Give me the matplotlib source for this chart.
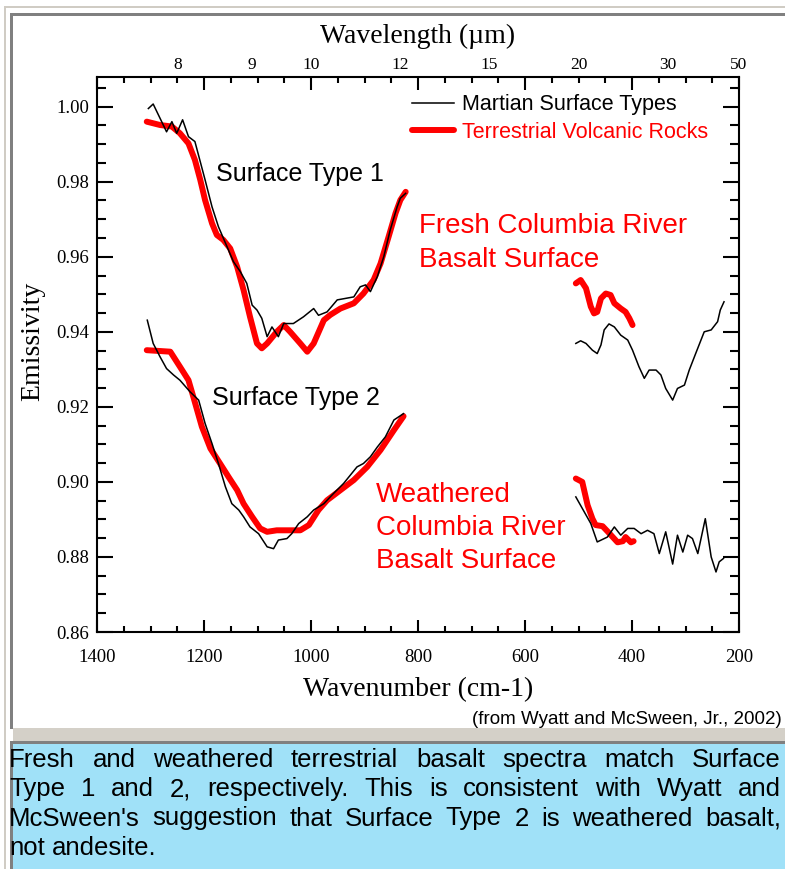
import matplotlib
matplotlib.use("Agg")
import matplotlib.pyplot as plt
from matplotlib.patches import Rectangle
from matplotlib.ticker import MultipleLocator, FormatStrFormatter, NullLocator

# Surface Type 1, Martian spectrum (wavenumber cm-1, emissivity)
t1_mars_wn = [1304, 1295, 1270, 1260, 1251, 1240, 1229, 1217, 1198, 1185, 1173, 1157,
              1145, 1132, 1120, 1110, 1101, 1092, 1082, 1073, 1061, 1051, 1033, 1014,
              995, 986, 970, 951, 920, 908, 898, 889, 876, 864, 852, 839, 833, 823]
t1_mars_em = [0.9995, 1.0007, 0.9933, 0.9960, 0.9929, 0.9965, 0.9920, 0.9907, 0.9805,
              0.9733, 0.9680, 0.9627, 0.9587, 0.9560, 0.9529, 0.9471, 0.9458, 0.9436,
              0.9387, 0.9413, 0.9387, 0.9422, 0.9422, 0.9440, 0.9462, 0.9444, 0.9453,
              0.9485, 0.9493, 0.9520, 0.9525, 0.9507, 0.9547, 0.9600, 0.9671, 0.9733,
              0.9756, 0.9769]
t1_mars_far_wn = [505, 496, 486, 474, 465, 458, 452, 443, 433, 421, 408, 399, 387, 377,
                  368, 355, 346, 337, 324, 315, 302, 293, 281, 265, 252, 240, 235, 228]
t1_mars_far_em = [0.9369, 0.9376, 0.9369, 0.9351, 0.9342, 0.9365, 0.9405, 0.9421, 0.9413,
                  0.9391, 0.9378, 0.9351, 0.9307, 0.9276, 0.9298, 0.9298, 0.9285, 0.9249,
                  0.9218, 0.9249, 0.9258, 0.9298, 0.9342, 0.9400, 0.9405, 0.9427, 0.9458,
                  0.9480]

# Fresh Columbia River basalt
t1_rock_wn = [1307, 1282, 1260, 1245, 1229, 1217, 1207, 1198, 1185, 1176, 1164, 1151,
              1138, 1126, 1114, 1101, 1092, 1082, 1064, 1051, 1039, 1020, 1007, 995,
              976, 964, 945, 920, 902, 883, 870, 855, 842, 833, 823]
t1_rock_em = [0.9960, 0.9951, 0.9947, 0.9929, 0.9902, 0.9858, 0.9805, 0.9751, 0.9689,
              0.9658, 0.9645, 0.9622, 0.9573, 0.9511, 0.9440, 0.9369, 0.9356, 0.9369,
              0.9400, 0.9418, 0.9400, 0.9369, 0.9347, 0.9369, 0.9431, 0.9445, 0.9462,
              0.9476, 0.9502, 0.9538, 0.9582, 0.9653, 0.9716, 0.9751, 0.9773]
t1_rock_far_wn = [505, 496, 486, 477, 471, 465, 458, 449, 440, 433, 421, 412, 405, 399]
t1_rock_far_em = [0.9529, 0.9538, 0.9516, 0.9467, 0.9449, 0.9453, 0.9489, 0.9502, 0.9498,
                  0.9476, 0.9462, 0.9453, 0.9436, 0.9418]

# Surface Type 2, Martian spectrum
t2_mars_wn = [1306, 1295, 1282, 1270, 1257, 1245, 1226, 1210, 1198, 1185, 1173, 1160,
              1148, 1135, 1126, 1114, 1098, 1082, 1070, 1061, 1045, 1036, 1023, 1007,
              995, 976, 958, 939, 914, 902, 889, 876, 861, 845, 827]
t2_mars_em = [0.9431, 0.9369, 0.9333, 0.9302, 0.9285, 0.9271, 0.9240, 0.9218, 0.9156,
              0.9102, 0.9049, 0.8987, 0.8942, 0.8925, 0.8907, 0.8880, 0.8862, 0.8827,
              0.8822, 0.8845, 0.8849, 0.8862, 0.8889, 0.8907, 0.8925, 0.8942, 0.8969,
              0.8996, 0.9040, 0.9049, 0.9067, 0.9093, 0.9120, 0.9165, 0.9182]
t2_mars_far_wn = [505, 477, 465, 446, 433, 421, 408, 396, 383, 371, 359, 349, 337, 324,
                  315, 305, 296, 287, 277, 263, 252, 243, 237, 229]
t2_mars_far_em = [0.8960, 0.8889, 0.8840, 0.8853, 0.8880, 0.8858, 0.8876, 0.8876, 0.8862,
                  0.8871, 0.8862, 0.8809, 0.8867, 0.8781, 0.8858, 0.8813, 0.8858, 0.8849,
                  0.8809, 0.8902, 0.8800, 0.8760, 0.8787, 0.8796]

# Weathered Columbia River basalt
t2_rock_wn = [1307, 1263, 1245, 1229, 1220, 1204, 1188, 1170, 1154, 1138, 1126, 1110,
              1095, 1082, 1064, 1039, 1020, 1004, 986, 970, 945, 920, 895, 870, 845, 827]
t2_rock_em = [0.9351, 0.9347, 0.9307, 0.9271, 0.9227, 0.9147, 0.9089, 0.9049, 0.9013,
              0.8978, 0.8942, 0.8907, 0.8876, 0.8867, 0.8871, 0.8871, 0.8871, 0.8885,
              0.8925, 0.8951, 0.8978, 0.9005, 0.9040, 0.9085, 0.9138, 0.9175]
t2_rock_far_wn = [505, 493, 483, 474, 468, 455, 445, 436, 427, 417, 412, 402, 397]
t2_rock_far_em = [0.9009, 0.9000, 0.8938, 0.8902, 0.8885, 0.8882, 0.8867, 0.8853, 0.8839,
                  0.8842, 0.8853, 0.8839, 0.8842]

wavelength_ticks = [8, 9, 10, 12, 15, 20, 30, 50]

caption_lines = [
    "Fresh and weathered terrestrial basalt spectra match Surface",
    "Type 1 and 2, respectively. This is consistent with Wyatt and",
    "McSween's suggestion that Surface Type 2 is weathered basalt,",
    "not andesite.",
]

plt.rcParams["font.family"] = "Liberation Serif"
SANS = "Liberation Sans"

W, H = 785, 869
fig = plt.figure(figsize=(W / 100, H / 100), dpi=100)


def fx(px):
    return px / W


def fy(py):
    return 1 - py / H


def box(x0, y0, x1, y1, color):
    fig.patches.append(Rectangle((fx(x0), fy(y1)), fx(x1) - fx(x0), fy(y0) - fy(y1),
                                 transform=fig.transFigure, facecolor=color,
                                 edgecolor="none", zorder=0))


# table frame around the chart and the caption cell
box(4, 6, 785, 8, "#d0ccc4")
box(4, 6, 6, 869, "#d0ccc4")
box(10, 13, 785, 16, "#808080")
box(10, 13, 13, 729, "#808080")
box(13, 728, 785, 741, "#d4d0c8")
box(10, 741, 785, 744, "#808080")
box(10, 741, 13, 869, "#808080")
box(13, 744, 785, 869, "#a0e1f8")

ax = fig.add_axes([fx(97), fy(632), fx(739) - fx(97), fy(77) - fy(632)])

black = dict(color="black", lw=1.1)
red = dict(color="#ff0000", lw=4.3, solid_capstyle="round", solid_joinstyle="round")

ax.plot(t1_mars_wn, t1_mars_em, label="Martian Surface Types", zorder=3, **black)
ax.plot(t1_mars_far_wn, t1_mars_far_em, zorder=3, **black)
ax.plot(t2_mars_wn, t2_mars_em, zorder=3, **black)
ax.plot(t2_mars_far_wn, t2_mars_far_em, zorder=3, **black)
ax.plot(t1_rock_wn, t1_rock_em, label="Terrestrial Volcanic Rocks", zorder=2, **red)
ax.plot(t1_rock_far_wn, t1_rock_far_em, zorder=2, **red)
ax.plot(t2_rock_wn, t2_rock_em, zorder=2, **red)
ax.plot(t2_rock_far_wn, t2_rock_far_em, zorder=2, **red)

ax.set_xlim(1400, 200)
ax.set_ylim(0.86, 1.0079)

# wavelength labels along the top edge
top = ax.twiny()
top.set_xlim(ax.get_xlim())
top.set_xticks([10000 / w for w in wavelength_ticks])
top.set_xticklabels([str(w) for w in wavelength_ticks])
top.xaxis.set_minor_locator(NullLocator())
top.tick_params(axis="x", length=0, pad=3, labelsize=12.5)
for s in top.spines.values():
    s.set_visible(False)

ax.xaxis.set_major_locator(MultipleLocator(200))
ax.xaxis.set_minor_locator(MultipleLocator(50))
ax.yaxis.set_major_locator(MultipleLocator(0.02))
ax.yaxis.set_minor_locator(MultipleLocator(0.005))
ax.yaxis.set_major_formatter(FormatStrFormatter("%.2f"))
ax.tick_params(which="both", direction="in", top=True, right=True, labeltop=False,
               width=1.5)
ax.tick_params(axis="x", which="major", length=9, pad=12, labelsize=13.5)
ax.tick_params(axis="x", which="minor", length=4.5)
ax.tick_params(axis="y", which="major", length=11.5, pad=5.5, labelsize=13.5)
ax.tick_params(axis="y", which="minor", length=6.5)
for s in ax.spines.values():
    s.set_linewidth(1.5)

leg = ax.legend(loc="upper left", bbox_to_anchor=(0.49, 0.969), frameon=False,
                borderpad=0, borderaxespad=0, handlelength=1.98, handletextpad=0.35,
                labelspacing=0.3, prop={"family": SANS, "size": 15.5})
leg.get_texts()[1].set_color("#ff0000")

ax.text(1177, 0.9802, "Surface Type 1", fontsize=18, family=SANS, va="baseline")
ax.text(1185, 0.9205, "Surface Type 2", fontsize=18, family=SANS, va="baseline")
ax.text(799, 0.9663, "Fresh Columbia River", fontsize=20, family=SANS, color="#ff0000",
        va="baseline")
ax.text(799, 0.9573, "Basalt Surface", fontsize=20, family=SANS, color="#ff0000",
        va="baseline")
ax.text(878, 0.8947, "Weathered", fontsize=20, family=SANS, color="#ff0000",
        va="baseline")
ax.text(878, 0.8859, "Columbia River", fontsize=20, family=SANS, color="#ff0000",
        va="baseline")
ax.text(878, 0.8771, "Basalt Surface", fontsize=20, family=SANS, color="#ff0000",
        va="baseline")

fig.text(fx(418), fy(43), "Wavelength (\u00b5m)", fontsize=20, ha="center", va="baseline")
fig.text(fx(418), fy(696), "Wavenumber (cm-1)", fontsize=20, ha="center", va="baseline")
fig.text(fx(33), fy(341), "Emissivity", fontsize=20, rotation=90, ha="center",
         va="center")
fig.text(fx(782), fy(724), "(from Wyatt and McSween, Jr., 2002)", fontsize=13.5,
         family=SANS, ha="right", va="baseline")

# justified caption in the blue cell
renderer = fig.canvas.get_renderer()
cap_size = 18.5
left, right = 9, 781
baselines = [767, 796, 825.5, 855]
for i, line in enumerate(caption_lines):
    words = line.split()
    items = [fig.text(0, 0, w, fontsize=cap_size, family=SANS, va="baseline")
             for w in words]
    widths = [t.get_window_extent(renderer).width for t in items]
    if i == len(caption_lines) - 1 or len(words) == 1:
        gap = 0.278 * cap_size * 100 / 72
    else:
        gap = (right - left - sum(widths)) / (len(words) - 1)
    x = left
    for t, w in zip(items, widths):
        t.set_position((fx(x), fy(baselines[i])))
        x += w + gap

fig.savefig("out.png", dpi=100)
